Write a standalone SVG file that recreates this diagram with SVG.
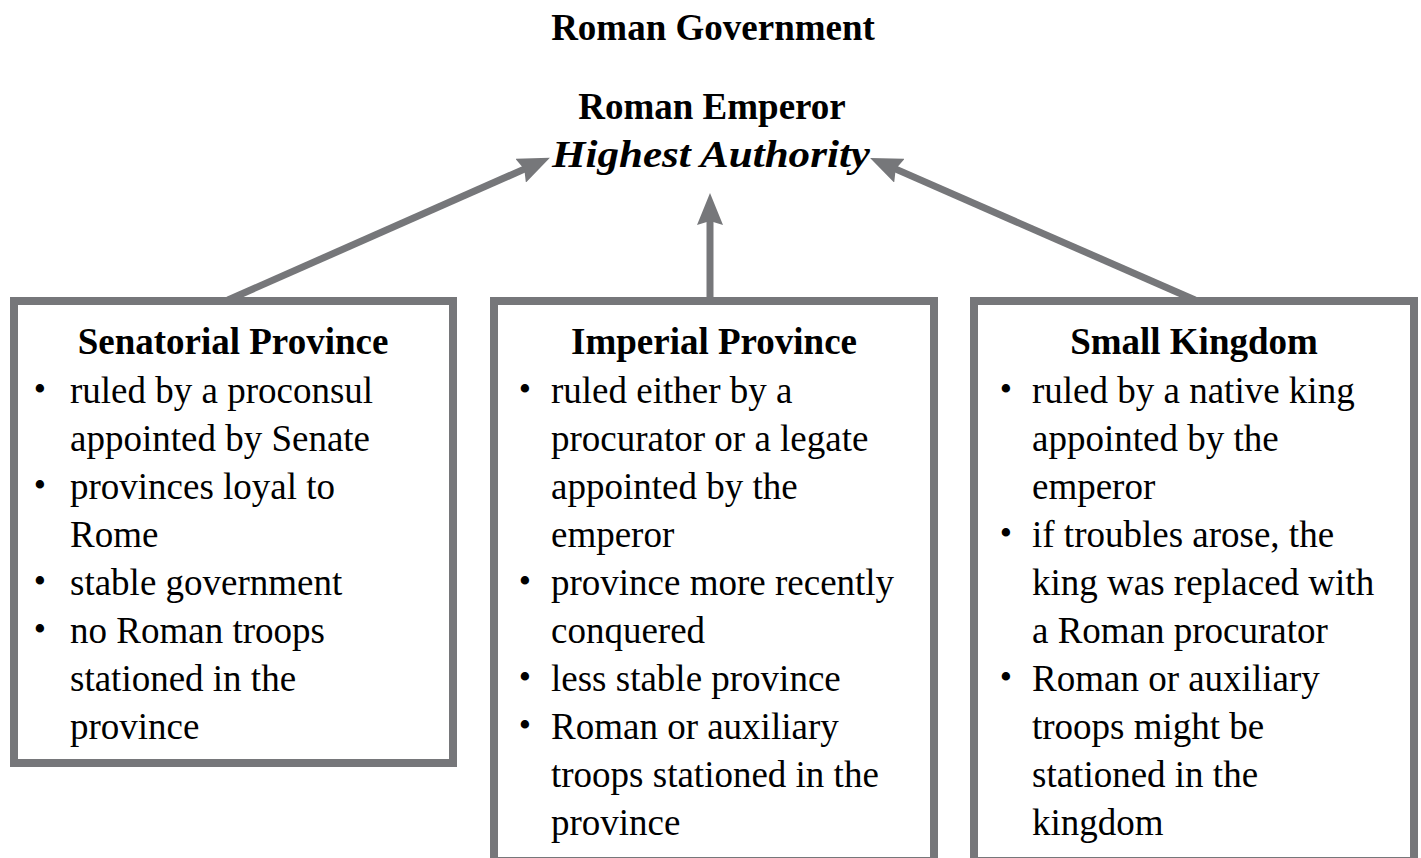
<svg xmlns="http://www.w3.org/2000/svg" width="1421" height="858" viewBox="0 0 1421 858">
<style>
text{font-family:"Liberation Serif","Times New Roman",serif;fill:#000;font-size:37px}
.b{font-weight:bold}
.c{text-anchor:middle}
.i{font-style:italic;font-weight:bold}
.bl{font-size:35px}
.box{fill:#fff;stroke:#76777a;stroke-width:8}
.conn{stroke:#76777a;stroke-width:7;fill:none;marker-end:url(#ah)}
</style>
<defs>
<marker id="ah" markerUnits="userSpaceOnUse" viewBox="0 0 32 26" markerWidth="32" markerHeight="26" refX="12" refY="13" orient="auto">
<path d="M0,0 L32,13 L0,26 L4,13 z" fill="#76777a"/>
</marker>
</defs>
<rect width="1421" height="858" fill="#fff"/>
<g id="title"><text class="b c" x="713" y="40">Roman Government</text></g>
<g id="emperor">
<text class="b c" x="712" y="119">Roman Emperor</text>
<text class="i c" x="711" y="167" textLength="318" lengthAdjust="spacingAndGlyphs">Highest Authority</text>
</g>
<g id="connectors">
<line class="conn" x1="228" y1="300" x2="531.6" y2="165.9"/>
<line class="conn" x1="710" y1="300" x2="710" y2="213"/>
<line class="conn" x1="1195" y1="300" x2="888.4" y2="165.9"/>
</g>
<g id="senatorial">
<rect class="box" x="14" y="301" width="439" height="462"/>
<text class="b c" x="233" y="354">Senatorial Province</text>
<text class="c bl" x="40" y="401">•</text><text x="70" y="403">ruled by a proconsul</text>
<text x="70" y="451">appointed by Senate</text>
<text class="c bl" x="40" y="497">•</text><text x="70" y="499">provinces loyal to</text>
<text x="70" y="547">Rome</text>
<text class="c bl" x="40" y="593">•</text><text x="70" y="595">stable government</text>
<text class="c bl" x="40" y="641">•</text><text x="70" y="643">no Roman troops</text>
<text x="70" y="691">stationed in the</text>
<text x="70" y="739">province</text>
</g>
<g id="imperial">
<rect class="box" x="494" y="301" width="440" height="560"/>
<text class="b c" x="714" y="354">Imperial Province</text>
<text class="c bl" x="525" y="401">•</text><text x="551" y="403">ruled either by a</text>
<text x="551" y="451">procurator or a legate</text>
<text x="551" y="499">appointed by the</text>
<text x="551" y="547">emperor</text>
<text class="c bl" x="525" y="593">•</text><text x="551" y="595">province more recently</text>
<text x="551" y="643">conquered</text>
<text class="c bl" x="525" y="689">•</text><text x="551" y="691">less stable province</text>
<text class="c bl" x="525" y="737">•</text><text x="551" y="739">Roman or auxiliary</text>
<text x="551" y="787">troops stationed in the</text>
<text x="551" y="835">province</text>
</g>
<g id="kingdom">
<rect class="box" x="974" y="301" width="440" height="560"/>
<text class="b c" x="1194" y="354">Small Kingdom</text>
<text class="c bl" x="1006" y="401">•</text><text x="1032" y="403">ruled by a native king</text>
<text x="1032" y="451">appointed by the</text>
<text x="1032" y="499">emperor</text>
<text class="c bl" x="1006" y="545">•</text><text x="1032" y="547">if troubles arose, the</text>
<text x="1032" y="595">king was replaced with</text>
<text x="1032" y="643">a Roman procurator</text>
<text class="c bl" x="1006" y="689">•</text><text x="1032" y="691">Roman or auxiliary</text>
<text x="1032" y="739">troops might be</text>
<text x="1032" y="787">stationed in the</text>
<text x="1032" y="835">kingdom</text>
</g>
</svg>
